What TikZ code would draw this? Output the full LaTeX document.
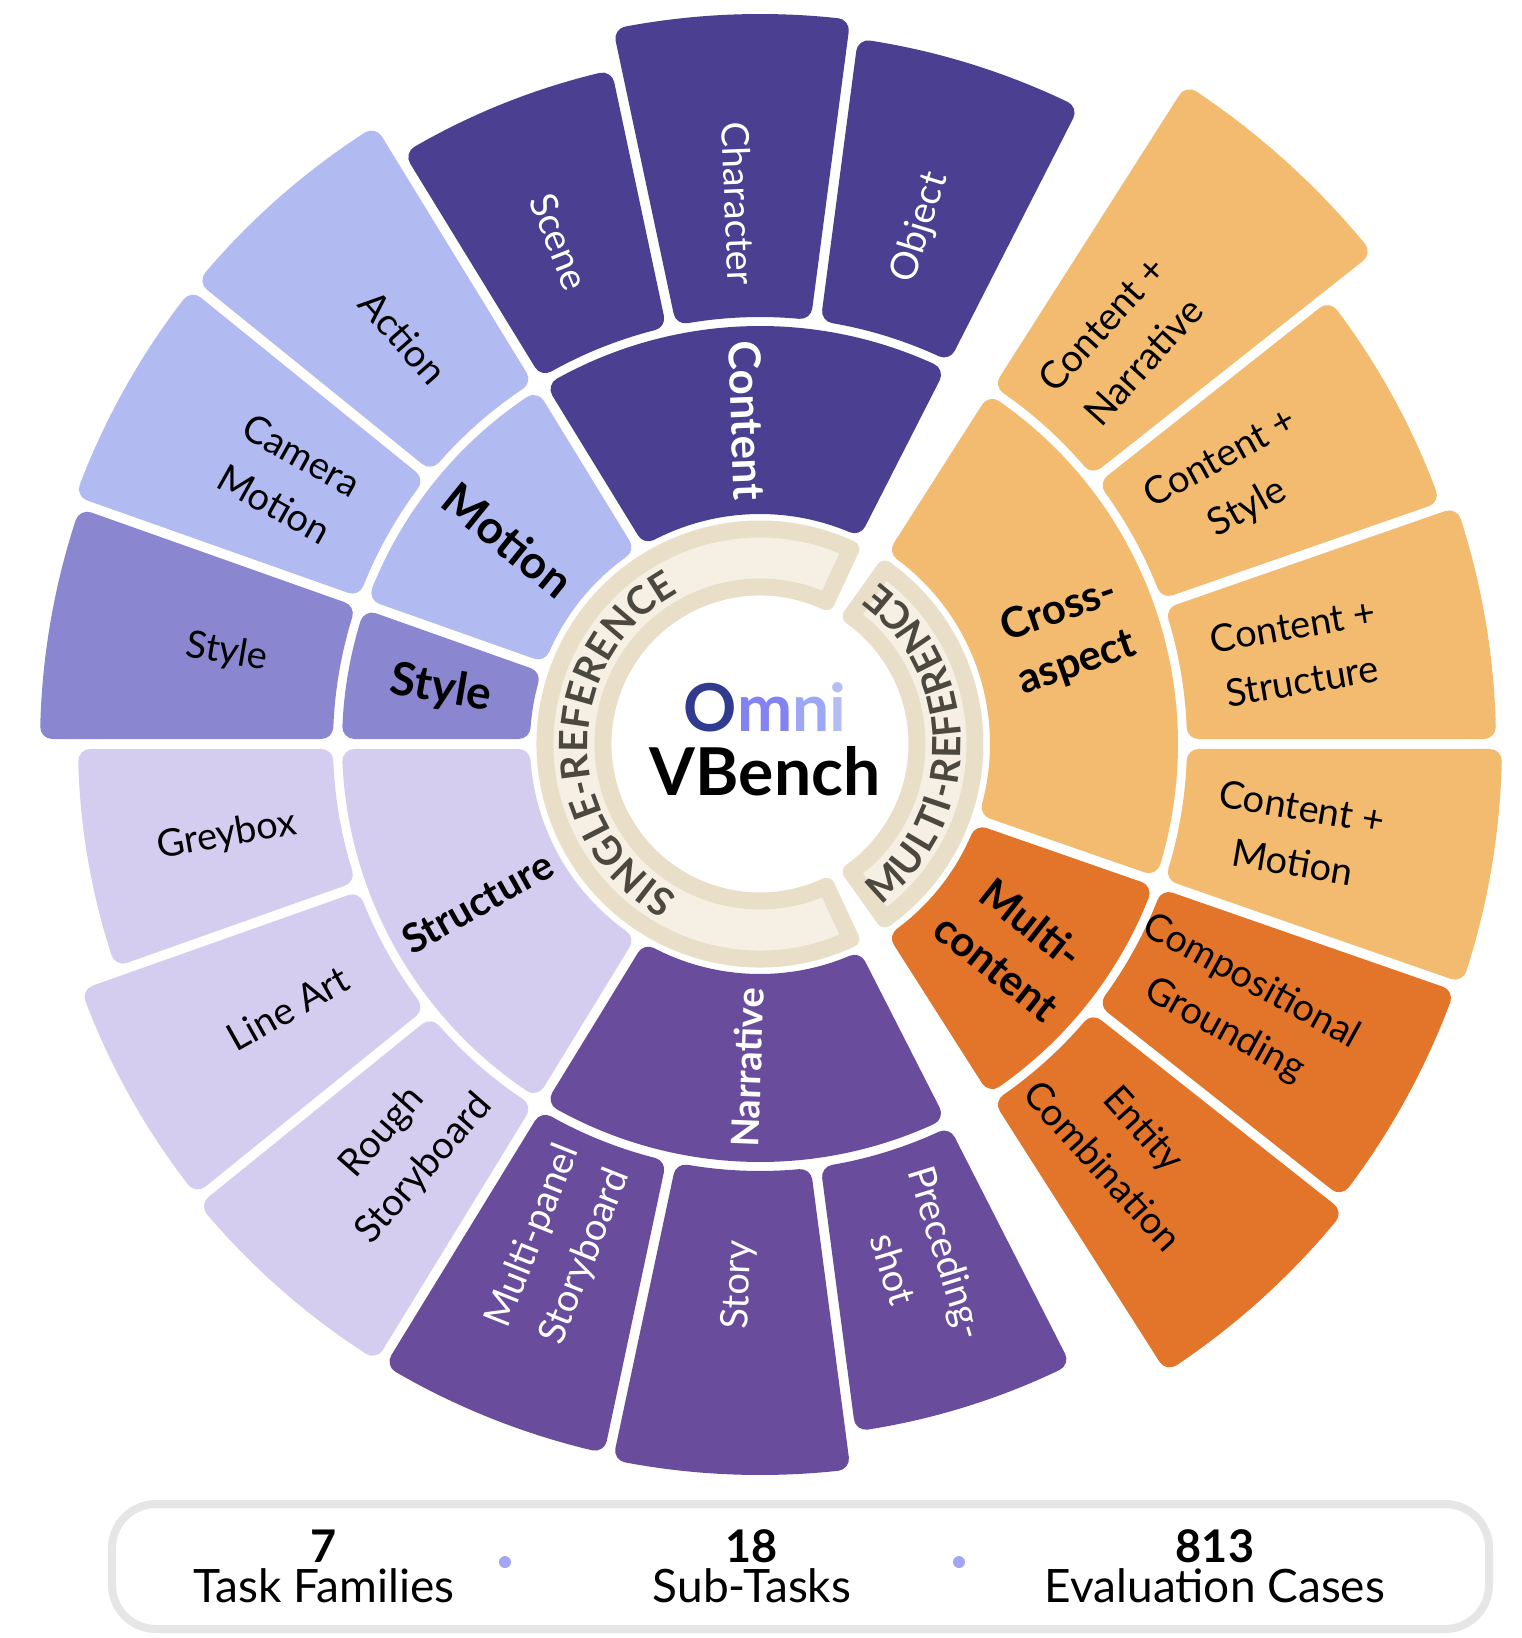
\documentclass[tikz,border=0pt]{standalone}
\usepackage{fontspec}
\setmainfont{Lato}
\usetikzlibrary{decorations.text}

\definecolor{contentc}{HTML}{4A3F91}
\definecolor{motionc}{HTML}{B1BBF2}
\definecolor{stylec}{HTML}{8A86CF}
\definecolor{structc}{HTML}{D5CDEF}
\definecolor{narrc}{HTML}{694C9C}
\definecolor{crossc}{HTML}{F2BB70}
\definecolor{multic}{HTML}{E3752B}
\definecolor{ringedge}{HTML}{E9DFC8}
\definecolor{ringfill}{HTML}{F5F0E3}
\definecolor{ringtext}{HTML}{4B483F}
\definecolor{omniO}{HTML}{303B8E}
\definecolor{omniM}{HTML}{8282F0}
\definecolor{omniN}{HTML}{9DA8F5}
\definecolor{omniI}{HTML}{B3BDF2}
\definecolor{statline}{HTML}{E6E6E6}
\definecolor{dotc}{HTML}{A3A5F5}

\tikzset{
    sub-label/.style = {font=\fontsize{19}{28}\selectfont, align=center, inner sep=0pt},
    cat-label/.style = {font=\fontsize{#1}{28}\selectfont\bfseries, align=center, inner sep=0pt},
    cat-label/.default = 21,
    ring-band/.style = {draw=ringedge, fill=ringfill, line width=8.5pt, line join=round},
    stat-num/.style = {font=\fontsize{22.5}{27}\selectfont\bfseries, anchor=base},
    stat-text/.style = {font=\fontsize{23}{28}\selectfont, anchor=base},
}

\newcommand{\ringfont}{\fontsize{19.5}{19.5}\selectfont\bfseries}
\newcommand{\segrad}{12}
\newcommand{\segoff}{17}
% #1 start angle, #2 end angle, #3 inner radius, #4 outer radius, #5 colour
\newcommand{\wheelseg}[5]{%
  \pgfmathsetmacro{\segri}{#3+\segrad}%
  \pgfmathsetmacro{\segro}{#4-\segrad}%
  \pgfmathsetmacro{\segA}{#1+asin(\segoff/\segri)}%
  \pgfmathsetmacro{\segB}{#1+asin(\segoff/\segro)}%
  \pgfmathsetmacro{\segC}{#2-asin(\segoff/\segro)}%
  \pgfmathsetmacro{\segD}{#2-asin(\segoff/\segri)}%
  \filldraw[#5, line width=\segrad pt, line join=round]
    (\segA:\segri) -- (\segB:\segro)
    arc[start angle=\segB, end angle=\segC, radius=\segro]
    -- (\segD:\segri)
    arc[start angle=\segD, end angle=\segA, radius=\segri] -- cycle;
}

\begin{document}
\begin{tikzpicture}[x=0.5pt, y=0.5pt]
\useasboundingbox (-760,-894) rectangle (761,744);

% task families
\wheelseg{63}{121.5}{230}{418}{contentc}
\wheelseg{121.5}{160.5}{230}{418}{motionc}
\wheelseg{160.5}{180}{230}{418}{stylec}
\wheelseg{180}{238.5}{230}{418}{structc}
\wheelseg{238.5}{297}{230}{418}{narrc}
\wheelseg{302.5}{340.83}{230}{418}{multic}
\wheelseg{340.83}{417.5}{230}{418}{crossc}

% sub-tasks
\wheelseg{63}{82.5}{427}{712}{contentc}
\wheelseg{82.5}{102}{427}{730}{contentc}
\wheelseg{102}{121.5}{427}{690}{contentc}
\wheelseg{121.5}{141}{427}{728}{motionc}
\wheelseg{141}{160.5}{427}{728}{motionc}
\wheelseg{160.5}{180}{427}{720}{stylec}
\wheelseg{180}{199.5}{427}{682}{structc}
\wheelseg{199.5}{219}{427}{722}{structc}
\wheelseg{219}{238.5}{427}{726}{structc}
\wheelseg{238.5}{258}{427}{726}{narrc}
\wheelseg{258}{277.5}{427}{731}{narrc}
\wheelseg{277.5}{297}{427}{694}{narrc}
\wheelseg{302.5}{321.67}{427}{748}{multic}
\wheelseg{321.67}{340.83}{427}{737}{multic}
\wheelseg{340.83}{360}{427}{742}{crossc}
\wheelseg{360}{379.17}{427}{736}{crossc}
\wheelseg{379.17}{398.33}{427}{722}{crossc}
\wheelseg{398.33}{417.5}{427}{785}{crossc}

% reference rings
\draw[ring-band] (65:157) arc[start angle=65, end angle=295, radius=157]
    -- (295:215) arc[start angle=295, end angle=65, radius=215] -- cycle;
\draw[ring-band] (-54.5:157) arc[start angle=-54.5, end angle=54.5, radius=157]
    -- (54.5:215) arc[start angle=54.5, end angle=-54.5, radius=215] -- cycle;
\path[decorate, decoration={text along path, text={|\ringfont|SINGLE-REFERENCE},
    text align={fit to path}, text color=ringtext}]
    (241.4:172) arc[start angle=241.4, end angle=118.3, radius=172];
\path[decorate, decoration={text along path, text={|\ringfont|MULTI-REFERENCE},
    text align={fit to path}, text color=ringtext}]
    (-53:201) arc[start angle=-53, end angle=53.6, radius=201];

% centre title
\node[anchor=base] (omni) at (5,12) {\fontsize{33}{33}\selectfont\bfseries
    \textcolor{omniO}{O}\textcolor{omniM}{m}\textcolor{omniN}{n}\textcolor{omniI}{i}};
\node[anchor=base] (vbench) at (5,-51) {\fontsize{33}{33}\selectfont\bfseries VBench};

% family labels
\node[cat-label=22, text=white, rotate=-87.75] (cat-content) at (92.25:324) {Content};
\node[cat-label=23, rotate=-39] (cat-motion) at (141:324) {Motion};
\node[cat-label=23, rotate=-9.75] (cat-style) at (170.25:324) {Style};
\node[cat-label=20, rotate=29.25] (cat-structure) at (209.25:324) {Structure};
\node[cat-label=19, text=white, rotate=87.75] (cat-narrative) at (267.75:324) {Narrative};
\node[cat-label, rotate=-38.33] (cat-multi) at (321.67:324) {Multi-\\content};
\node[cat-label, rotate=19.17] (cat-cross) at (19.17:326) {Cross-\\aspect};

% sub-task labels
\node[sub-label, text=white, rotate=72.75] (lab-object) at (72.75:541) {Object};
\node[sub-label, text=white, rotate=-87.75] (lab-character) at (92.25:541) {Character};
\node[sub-label, text=white, rotate=-68.25] (lab-scene) at (111.75:541) {Scene};
\node[sub-label, rotate=-48.75] (lab-action) at (131.25:541) {Action};
\node[sub-label, rotate=-29.25] (lab-camera) at (150.75:541) {Camera\\Motion};
\node[sub-label, rotate=-9.75] (lab-style) at (170.25:541) {Style};
\node[sub-label, rotate=9.75] (lab-greybox) at (189.75:541) {Greybox};
\node[sub-label, rotate=29.25] (lab-lineart) at (209.25:541) {Line Art};
\node[sub-label, rotate=48.75] (lab-rough) at (228.75:541) {Rough\\Storyboard};
\node[sub-label, text=white, rotate=68.25] (lab-panel) at (248.25:541) {Multi-panel\\Storyboard};
\node[sub-label, text=white, rotate=87.75] (lab-story) at (267.75:541) {Story};
\node[sub-label, text=white, rotate=-72.75] (lab-shot) at (287.25:541) {Preceding-\\shot};
\node[sub-label, rotate=-47.92] (lab-entity) at (312.08:543) {Entity\\Combination};
\node[sub-label, rotate=-28.75] (lab-ground) at (331.25:545) {Compositional\\Grounding};
\node[sub-label, rotate=-9.58] (lab-cmotion) at (350.42:545) {Content +\\Motion};
\node[sub-label, rotate=9.58] (lab-cstructure) at (9.58:545) {Content +\\Structure};
\node[sub-label, rotate=28.75] (lab-cstyle) at (28.75:541) {Content +\\Style};
\node[sub-label, rotate=47.92] (lab-cnarrative) at (47.92:541) {Content +\\Narrative};

% summary box
\draw[statline, line width=4pt, fill=white, rounded corners=22pt] (-648,-760) rectangle (729,-885);
\node[stat-num] (num-fam) at (-436,-818) {7};
\node[stat-text] (txt-fam) at (-436,-858) {Task Families};
\node[stat-num] (num-sub) at (-8,-818) {18};
\node[stat-text] (txt-sub) at (-8,-858) {Sub-Tasks};
\node[stat-num] (num-case) at (455,-818) {813};
\node[stat-text] (txt-case) at (455,-858) {Evaluation Cases};
\fill[dotc] (-255,-818) circle[radius=3pt];
\fill[dotc] (199,-818) circle[radius=3pt];
\end{tikzpicture}
\end{document}
